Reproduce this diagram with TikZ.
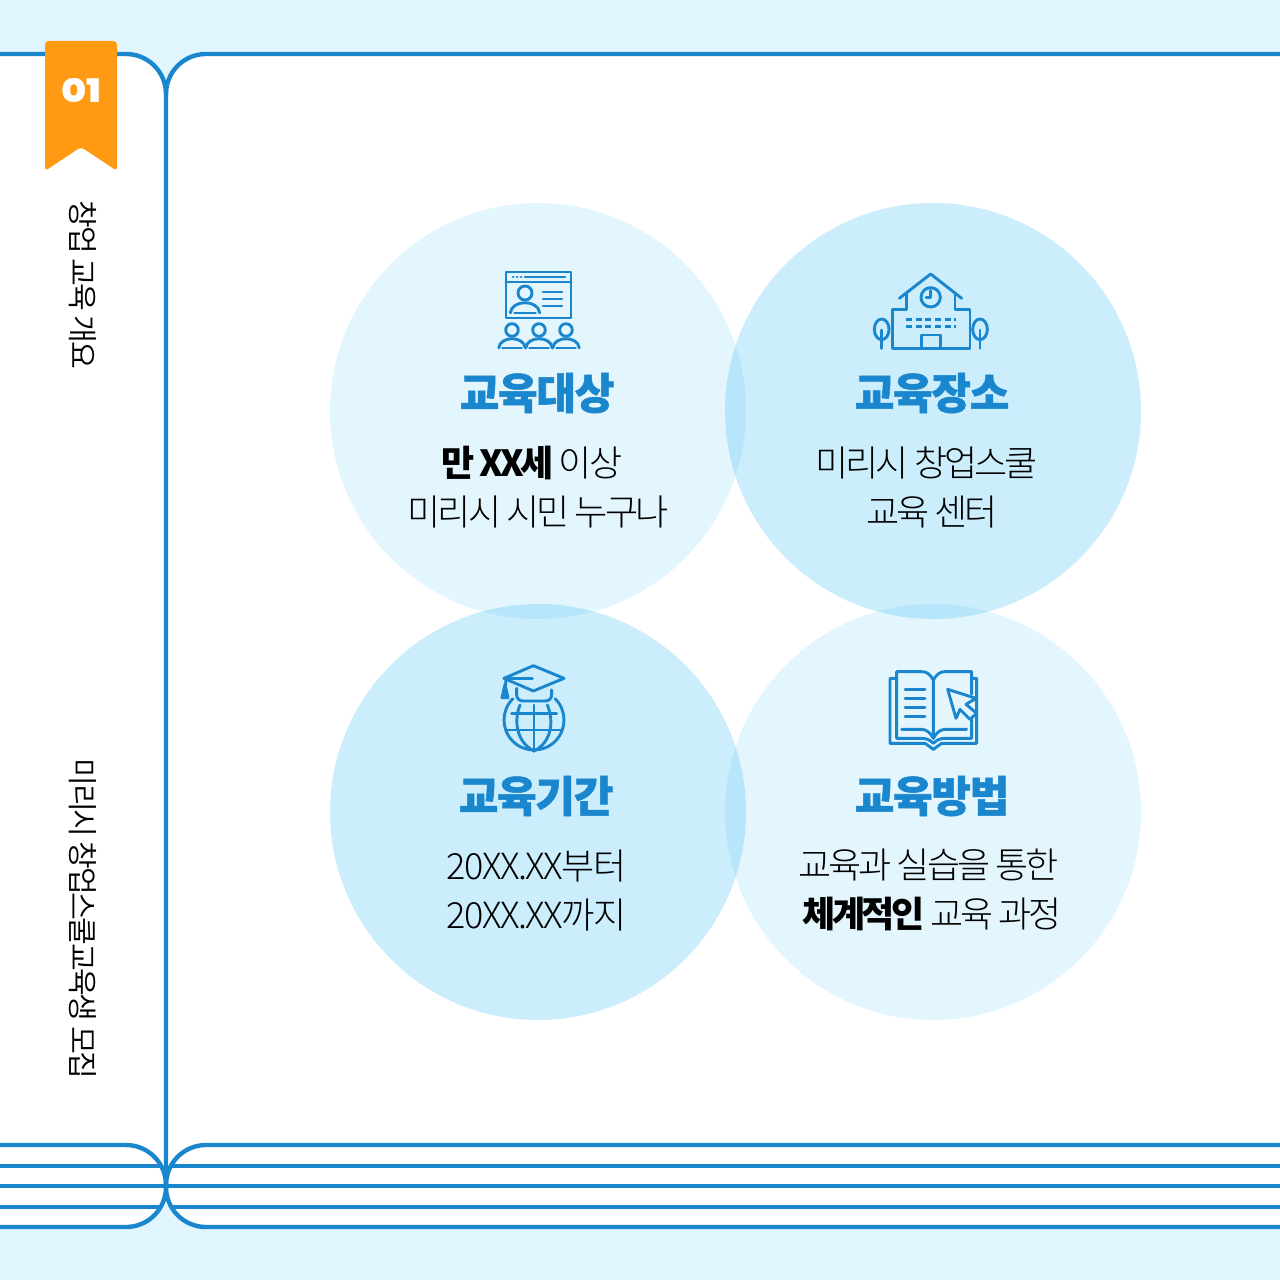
\documentclass[tikz,border=0pt]{standalone}
\usepackage{fontspec}
\setmainfont{Noto Sans CJK KR}
\newfontfamily\krtitle[LetterSpace=-3,FakeBold=1.2]{Noto Sans CJK KR Black}
\newfontfamily\krbold[LetterSpace=-9]{Noto Sans CJK KR Black}
\newfontfamily\krbody[LetterSpace=-8]{Noto Sans CJK KR Light}
\newfontfamily\krdate[LetterSpace=-4]{Noto Sans CJK KR Light}
\newfontfamily\krside[LetterSpace=-8]{Noto Sans CJK KR DemiLight}
\newfontfamily\numfont[FakeStretch=1.2,FakeBold=1.2]{Poppins ExtraBold}
\definecolor{lineblue}{HTML}{1A86CE}
\definecolor{paleblue}{HTML}{E1F5FE}
\definecolor{discblue}{HTML}{29B6F6}
\definecolor{ribbonorange}{HTML}{FF9A12}
\tikzset{%
  panel/.style={line width=2.5pt,draw=lineblue},%
  iconline/.style={line width=1.65pt,draw=lineblue,line join=round,line cap=round},%
  paledisc/.style={fill=discblue,fill opacity=.12},%
  deepdisc/.style={fill=discblue,fill opacity=.24},%
  titlelabel/.style={text=lineblue,font=\krtitle\fontsize{24.5}{28}\selectfont},%
  bodylabel/.style={align=center,text=black,font=\krbody\fontsize{20.5}{27.9}\selectfont},%
  datelabel/.style={align=center,text=black,font=\krdate\fontsize{20.5}{27.9}\selectfont},%
  sidelabel/.style={rotate=-90,text=black,font=\krside\fontsize{17.2}{18}\selectfont}%
}
\newcommand{\person}[3]{% x, y, head radius
  \draw[iconline] (#1,#2) circle (#3);
  \draw[iconline] (#1-2.1*#3,#2+2.85*#3) .. controls (#1-1.9*#3,#2+0.9*#3) and (#1+1.9*#3,#2+0.9*#3) .. (#1+2.1*#3,#2+2.85*#3);
  \draw[iconline] (#1-1.5*#3,#2+2.85*#3) -- (#1+1.5*#3,#2+2.85*#3);
}
\begin{document}
\begin{tikzpicture}[x=0.02cm,y=-0.02cm]
  \useasboundingbox (0,0) rectangle (1280,1280);
  % background
  \fill[paleblue] (0,0) rectangle (1280,1280);
  \fill[white] (0,54) -- (126,54) arc (-90:0:40) -- (166,1187) arc (0:90:40) -- (0,1227) -- cycle;
  \fill[white] (1280,54) -- (206,54) arc (-90:-180:40) -- (166,1187) arc (180:90:40) -- (1280,1227) -- cycle;
  % discs
  \fill[paledisc] (538,411) circle (208);
  \fill[deepdisc] (933,411) circle (208);
  \fill[deepdisc] (538,812) circle (208);
  \fill[paledisc] (933,812) circle (208);
  % pages
  \draw[panel] (0,54) -- (126,54) arc (-90:0:40) -- (166,1185);
  \draw[panel] (1280,54) -- (206,54) arc (-90:-180:40) -- (166,94);
  \draw[panel] (0,1145) -- (126,1145) arc (-90:0:40);
  \draw[panel] (1280,1145) -- (206,1145) arc (-90:-180:40);
  \draw[panel] (0,1227) -- (126,1227) arc (90:0:40);
  \draw[panel] (1280,1227) -- (206,1227) arc (90:180:40);
  \draw[panel] (0,1166) -- (161,1166) (171,1166) -- (1280,1166);
  \draw[panel] (0,1186) -- (1280,1186);
  \draw[panel] (0,1207) -- (161,1207) (171,1207) -- (1280,1207);
  % ribbon
  \fill[ribbonorange,rounded corners=2pt] (45,41) -- (117,41) -- (117,171) -- (81,147) -- (45,171) -- cycle;
  \node[text=white,font=\numfont\fontsize{18}{20}\selectfont] (badge) at (81,90) {01};
  % side texts
  \node[sidelabel] (sidetop) at (83,285) {창업 교육 개요};
  \node[sidelabel] (sidebottom) at (83,919) {미리시 창업스쿨교육생 모집};
  % titles
  \node[titlelabel] (titlea) at (537,393) {교육대상};
  \node[titlelabel] (titleb) at (932,393) {교육장소};
  \node[titlelabel] (titlec) at (536,796) {교육기간};
  \node[titlelabel] (titled) at (932,796) {교육방법};
  % texts
  \node[bodylabel] (bodya) at (538,487) {{\krbold 만 XX세} 이상\hspace*{7pt}\\미리시 시민 누구나};
  \node[bodylabel] (bodyb) at (932,487) {미리시 창업스쿨\hspace*{6pt}\\교육 센터};
  \node[datelabel] (bodyc) at (536.5,890) {20XX.XX부터\\20XX.XX까지};
  \node[bodylabel] (bodyd) at (932,890) {교육과 실습을 통한\hspace*{4pt}\\{\krbold 체계적인} 교육 과정};
  % icon: audience
  \draw[iconline] (506,272) rectangle (571,318);
  \draw[iconline] (506,282) -- (571,282);
  \draw[iconline] (525,277) -- (565,277);
  \draw[iconline] (513,277) -- (513.2,277) (517,277) -- (517.2,277) (521,277) -- (521.2,277);
  \draw[iconline] (543,292) -- (562,292) (543,299) -- (562,299) (543,306) -- (562,306);
  \person{525}{293}{7}
  \person{512}{330}{6.3}
  \person{539}{330}{6.3}
  \person{566}{330}{6.3}
  % icon: school
  \begin{scope}[shift={(860,260)},scale=1/3]
    \draw[iconline] (118,115) -- (212,42) -- (305,115);
    \draw[iconline] (140,100) -- (140,148) -- (97,148) -- (97,265) -- (330,265) -- (330,148) -- (285,148) -- (285,100);
    \draw[iconline] (212,112) circle (29);
    \draw[iconline] (212,92) -- (212,112) -- (198,112);
    \draw[iconline,line cap=butt,dash pattern=on 3.5pt off 2pt] (138,178) -- (288,178);
    \draw[iconline,line cap=butt,dash pattern=on 3.5pt off 2pt] (138,200) -- (288,200);
    \draw[iconline] (185,265) -- (185,225) -- (242,225) -- (242,265);
    \draw[iconline] (65,208) ellipse (22 and 31);
    \draw[iconline] (65,210) -- (65,265);
    \draw[iconline] (360,208) ellipse (22 and 31);
    \draw[iconline] (360,210) -- (360,265);
  \end{scope}
  % icon: cap and globe
  \begin{scope}[shift={(490,655)},scale=1/3]
    \draw[iconline] (130,32) -- (222,70) -- (130,108) -- (42,70) -- cycle;
    \draw[iconline] (42,70) -- (127,70);
    \draw[iconline] (48,75) -- (46,95);
    \draw[iconline,fill=lineblue] (45,88) -- (36,128) -- (54,128) -- cycle;
    \draw[iconline] (80,100) -- (80,120) .. controls (80,132) and (90,138) .. (100,138) -- (165,138) .. controls (178,138) and (185,130) .. (185,118) -- (185,105);
    \draw[iconline] (132,195) ++(-135:90) arc (-135:-405:90);
    \draw[iconline] (90,150) .. controls (68,205) and (85,265) .. (132,288) .. controls (180,265) and (195,205) .. (172,150);
    \draw[iconline] (132,150) -- (132,288);
    \draw[iconline] (65,175) -- (200,175) (48,225) -- (215,225);
  \end{scope}
  % icon: open book
  \begin{scope}[shift={(880,660)},scale=1/3]
    \draw[iconline] (160,235) -- (160,60) .. controls (150,42) and (140,35) .. (125,35) -- (50,35) -- (50,235) -- (125,235) .. controls (140,235) and (150,240) .. (160,250) .. controls (170,240) and (180,235) .. (195,235) -- (275,235) -- (275,172);
    \draw[iconline] (160,60) .. controls (170,42) and (180,35) .. (195,35) -- (275,35) -- (275,102);
    \draw[iconline] (50,55) -- (30,55) -- (30,250) -- (135,250) -- (160,268) -- (185,250) -- (290,250) -- (290,55) -- (275,55);
    \draw[iconline] (75,88) -- (135,88) (75,115) -- (135,115) (75,143) -- (135,143) (75,170) -- (135,170);
    \draw[iconline] (65,208) -- (125,208) .. controls (140,208) and (152,220) .. (160,235) .. controls (168,220) and (180,208) .. (195,208) -- (260,208);
    \draw[iconline] (203,88) -- (288,115) -- (258,133) -- (290,160) -- (270,178) -- (240,148) -- (228,175) -- cycle;
  \end{scope}
\end{tikzpicture}
\end{document}
